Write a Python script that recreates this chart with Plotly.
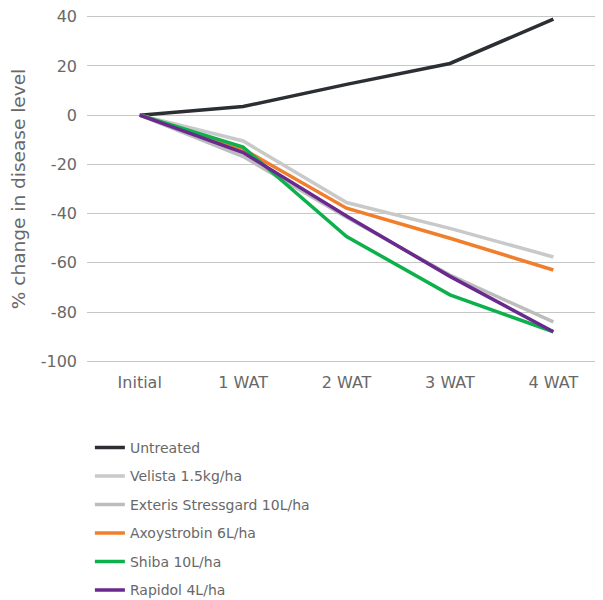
import plotly.graph_objects as go

categories = ["Initial", "1 WAT", "2 WAT", "3 WAT", "4 WAT"]

untreated = [0, 3.5, 12.5, 21, 39]
velista = [0, -10.5, -35.5, -46, -57.6]
exteris = [0, -16.8, -41.5, -65, -84]
axoystrobin = [0, -13.8, -37.8, -50, -62.9]
shiba = [0, -13, -49.3, -73, -88]
rapidol = [0, -15.2, -41, -65.5, -88]

y_tickvals = [-100, -80, -60, -40, -20, 0, 20, 40]
y_ticktext = ["-100", "-80", "-60", "-40", "-20", "0", "20", "40"]

series = [
    ("Untreated", untreated, "#2b2f33"),
    ("Velista 1.5kg/ha", velista, "#c9c9c9"),
    ("Exteris Stressgard 10L/ha", exteris, "#bdbdbd"),
    ("Axoystrobin 6L/ha", axoystrobin, "#f07e2c"),
    ("Shiba 10L/ha", shiba, "#0db14b"),
    ("Rapidol 4L/ha", rapidol, "#69298f"),
]

font_family = "'DejaVu Sans', 'Open Sans', sans-serif"
text_color = "#686868"

fig = go.Figure()
for i, (name, vals, color) in enumerate(series):
    fig.add_trace(go.Scatter(
        x=categories, y=vals, mode="lines", name=name,
        line=dict(color=color, width=3.5),
        legendgroup=f"g{i}",
    ))

fig.update_layout(
    width=595, height=592,
    margin=dict(l=79, r=0, t=5.3, b=235.3, autoexpand=False),
    paper_bgcolor="white", plot_bgcolor="white",
    font=dict(family=font_family, color=text_color, size=15),
    showlegend=True,
    legend=dict(
        orientation="v", x=0.0056, xanchor="left", y=-0.1898, yanchor="top",
        font=dict(size=14, color=text_color),
        tracegroupgap=7.3, itemwidth=30,
        bgcolor="rgba(0,0,0,0)",
    ),
    xaxis=dict(
        type="category", range=[-0.51, 4.48],
        showgrid=False, zeroline=False, showline=False,
        ticks="", tickfont=dict(size=16, color=text_color),
        ticklabelstandoff=6,
    ),
    yaxis=dict(
        range=[-101.5, 41.5], tickvals=y_tickvals, ticktext=y_ticktext,
        showgrid=True, gridcolor="#c6c6c6", gridwidth=1,
        zeroline=False, showline=False, ticks="",
        tickfont=dict(size=16, color=text_color),
        ticklabelstandoff=9, ticklabeloverflow="allow",
        title=dict(text="% change in disease level", font=dict(size=18.5, color=text_color), standoff=10),
    ),
)

fig.write_html("out.html")
